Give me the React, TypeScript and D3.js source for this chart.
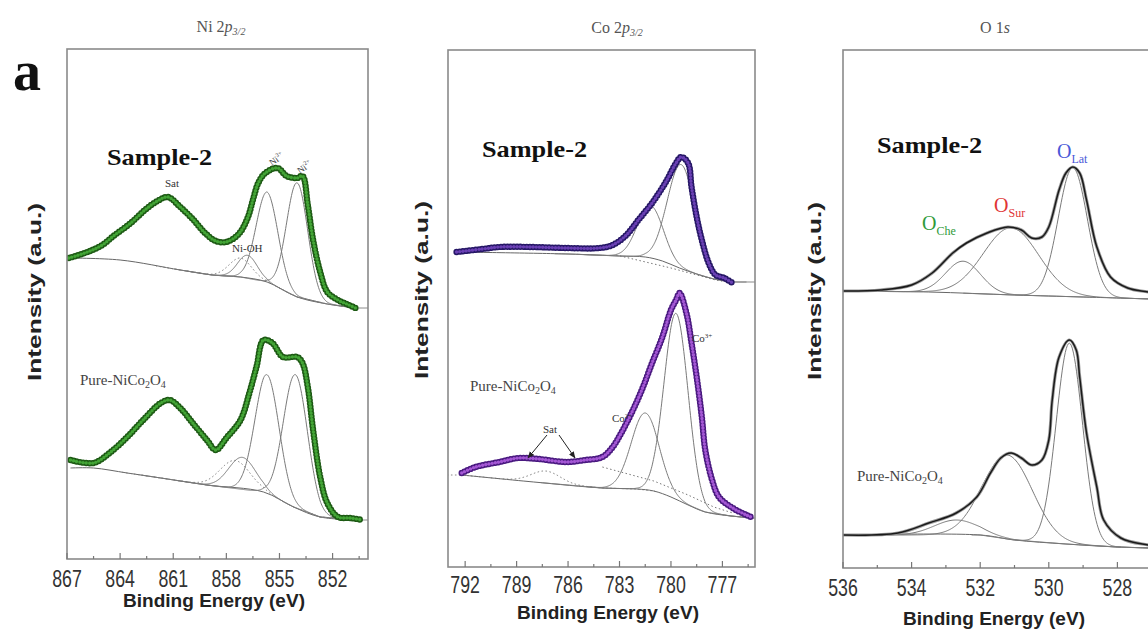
import React from "react";
import * as d3 from "d3";

type Pt = [number, number];
type Peak = [number, number, number]; // center (eV), height above background (a.u.), FWHM (eV)

// ---------------- Ni 2p3/2 ----------------
const niMajor = [867, 864, 861, 858, 855, 852];
const niMinor = [865.5, 862.5, 859.5, 856.5, 853.5, 850.5];
const niS2Data: Pt[] = [
  [866.9, 301], [866.0, 306], [865.1, 313], [864.3, 324], [863.4, 336], [862.6, 349], [861.9, 358],
  [861.3, 362], [860.6, 352], [859.9, 340], [859.2, 326], [858.6, 318], [858.0, 317], [857.3, 325],
  [856.8, 341], [856.5, 359], [856.2, 376], [855.8, 386], [855.1, 391], [854.6, 383], [854.0, 381],
  [853.7, 383], [853.4, 354], [853.1, 319], [852.7, 287], [852.3, 267], [851.7, 259], [851.2, 255], [850.7, 251],
];
const niS2Bg: Pt[] = [
  [867, 301], [864, 299], [860.6, 289], [858.8, 284], [857.2, 282], [855.7, 277], [854, 262], [852.3, 255], [850.7, 251],
];
const niS2Peaks: Peak[] = [[855.7, 90, 1.45], [854.0, 114, 1.4], [856.8, 23, 1.3]];
const niS2Dotted: Peak[] = [[857.2, 19, 1.5]];

const niPureData: Pt[] = [
  [866.8, 99], [865.5, 96], [864.6, 106], [863.6, 122], [862.7, 139], [861.7, 156], [861.2, 159],
  [860.6, 151], [859.9, 136], [859.1, 119], [858.6, 109], [858.0, 121], [857.2, 139], [856.7, 166],
  [856.3, 192], [855.9, 219], [855.4, 216], [854.8, 202], [854.0, 202], [853.7, 196], [853.4, 172],
  [853.1, 129], [852.7, 82], [852.3, 56], [851.7, 42], [851.0, 41], [850.3, 39],
];
const niPureBg: Pt[] = [
  [866.8, 91], [865.5, 91], [863.6, 86], [861.7, 81], [859.1, 74], [855.9, 67], [854.2, 52], [852.7, 42], [850.4, 39],
];
const niPurePeaks: Peak[] = [[855.7, 119, 1.6], [854.1, 133, 1.6], [857.1, 32, 1.8]];
const niPureDotted: Peak[] = [[857.5, 28, 2.0]];

// ---------------- Co 2p3/2 ----------------
const coMajor = [792, 789, 786, 783, 780, 777];
const coMinor = [790.5, 787.5, 784.5, 781.5, 778.5, 775.5];
const coS2Data: Pt[] = [
  [792.5, 315], [791.0, 318], [790.0, 320], [788.1, 320], [786.1, 319], [784.2, 319], [783.4, 322],
  [782.6, 332], [781.9, 347], [781.1, 364], [780.3, 385], [779.7, 404], [779.4, 410], [779.0, 404],
  [778.8, 380], [778.5, 350], [778.2, 327], [777.8, 304], [777.4, 292], [776.9, 289], [776.4, 284],
];
const coS2Bg: Pt[] = [
  [792.5, 315], [786, 313], [783, 311], [781.5, 310], [780.5, 306], [779.5, 299], [778.5, 293], [777.5, 288], [776.4, 285],
];
const coS2Peaks: Peak[] = [[781.2, 53, 1.75], [779.4, 104, 1.9]];
const coS2DotLine: Pt[] = [[783.2, 312], [780, 299], [777.4, 287], [776.4, 284]];

const coPureData: Pt[] = [
  [792.2, 94], [791.4, 100], [790.0, 105], [788.9, 109], [787.7, 108], [786.1, 105], [785.0, 107],
  [784.0, 110], [783.4, 120], [782.9, 134], [782.3, 154], [781.7, 177], [781.1, 204], [780.5, 230],
  [780.0, 257], [779.7, 267], [779.5, 274], [779.1, 254], [778.8, 224], [778.5, 190], [778.2, 150],
  [778.0, 117], [777.6, 87], [777.2, 70], [776.4, 59], [775.6, 52], [775.2, 49],
];
const coPureBg: Pt[] = [
  [792.2, 92], [788, 85], [784, 79], [782, 78], [781, 76], [780, 70], [779, 62], [778, 55], [776.5, 51], [775.2, 49],
];
const coPurePeaks: Peak[] = [[781.5, 77, 1.9], [779.7, 186, 1.65]];
const coPureDotted: Peak[] = [[787.3, 12, 2.0]];
const coPureDotLine: Pt[] = [[784, 100], [781, 86], [779, 72], [777.5, 60], [776.4, 54]];

// ---------------- O 1s ----------------
const oMajor = [536, 534, 532, 530, 528];
const oMinor = [535, 533, 531, 529, 527];
const oS2Env: Pt[] = [
  [536.0, 277], [534.9, 278], [534.0, 283], [533.4, 295], [532.8, 315], [532.4, 325], [531.8, 335],
  [531.2, 341], [530.8, 338], [530.5, 330], [530.2, 331], [530.0, 341], [529.7, 378], [529.5, 395],
  [529.3, 401], [529.1, 395], [528.9, 368], [528.6, 321], [528.2, 291], [527.7, 280], [527.1, 276], [526.0, 270],
];
const oS2Bg: Pt[] = [[536, 277], [533.5, 276], [531, 273], [529, 271], [526, 268]];
const oS2Peaks: Peak[] = [[532.5, 32, 1.2], [531.1, 67, 1.9], [529.3, 129, 1.0]];

const oPureEnv: Pt[] = [
  [536.0, 33], [534.4, 35], [533.5, 45], [532.7, 55], [532.1, 71], [531.7, 95], [531.4, 110],
  [531.1, 115], [530.8, 110], [530.5, 103], [530.2, 108], [530.0, 128], [529.9, 168], [529.7, 211],
  [529.4, 228], [529.2, 218], [529.1, 191], [528.9, 135], [528.6, 81], [528.4, 48], [527.9, 30], [527.1, 23], [526.0, 19],
];
const oPureBg: Pt[] = [[536, 33], [532, 33], [531, 28], [529.5, 24], [528, 21], [526, 19]];
const oPurePeaks: Peak[] = [[532.7, 15, 1.5], [531.2, 84, 1.7], [529.4, 201, 0.9]];

// ---------------- layout & styles ----------------
const SANS = "'Liberation Sans', Arial, sans-serif";
const SERIF = "'Liberation Serif', 'Times New Roman', serif";

type Frame = { x0: number; x1: number; y0: number; y1: number; xDomain: [number, number] };
const frameNi: Frame = { x0: 67, x1: 368, y0: 49, y1: 559, xDomain: [867, 850] };
const frameCo: Frame = { x0: 448, x1: 755, y0: 50, y1: 567, xDomain: [793, 775.1] };
const frameO: Frame = { x0: 843, x1: 1186, y0: 50, y1: 568, xDomain: [536, 526] };

type Spec = {
  data?: Pt[];
  env?: Pt[];
  bg: Pt[];
  peaks: Peak[];
  dotted?: Peak[];
  dotLine?: Pt[];
  dark?: string;
  light?: string;
};

function gauss(e: number, c: number, h: number, w: number) {
  const s = w / 2.3548;
  return h * Math.exp(-((e - c) ** 2) / (2 * s * s));
}

function Panel(props: {
  id: string;
  f: Frame;
  major: number[];
  minor: number[];
  specs: Spec[];
  labelY: number;
}) {
  const { id, f, major, minor, specs, labelY } = props;
  const x = d3.scaleLinear().domain(f.xDomain).range([f.x0, f.x1]);
  const y = d3.scaleLinear().domain([0, f.y1 - f.y0]).range([f.y1, f.y0]);
  const line = d3
    .line<Pt>()
    .x((d) => x(d[0]))
    .y((d) => y(d[1]))
    .curve(d3.curveCatmullRom.alpha(0.5));
  const straight = d3
    .line<Pt>()
    .x((d) => x(d[0]))
    .y((d) => y(d[1]));

  const compPath = (s: Spec, p: Peak) => {
    const bgS = d3
      .scaleLinear()
      .domain(s.bg.map((d) => d[0]))
      .range(s.bg.map((d) => d[1]))
      .clamp(true);
    const pts: Pt[] = d3
      .range(p[0] - 3.2 * p[2], p[0] + 3.2 * p[2], 0.03)
      .map((e) => [e, bgS(e) + gauss(e, p[0], p[1], p[2])] as Pt);
    return straight(pts) || "";
  };

  return (
    <g>
      <defs>
        <clipPath id={id}>
          <rect x={f.x0} y={f.y0} width={f.x1 - f.x0} height={f.y1 - f.y0} />
        </clipPath>
      </defs>
      <g clipPath={`url(#${id})`}>
        {specs.map((s, i) => (
          <g key={i}>
            <path d={line(s.bg) || ""} fill="none" stroke="#666" strokeWidth={1} />
            {s.peaks.map((p, j) => (
              <path key={j} d={compPath(s, p)} fill="none" stroke="#7a7a7a" strokeWidth={1} />
            ))}
            {(s.dotted || []).map((p, j) => (
              <path key={"d" + j} d={compPath(s, p)} fill="none" stroke="#777" strokeWidth={1} strokeDasharray="1.5 2.5" />
            ))}
            {s.dotLine && (
              <path d={straight(s.dotLine) || ""} fill="none" stroke="#777" strokeWidth={1} strokeDasharray="1.5 2.5" />
            )}
            {s.data && (
              <g>
                <path d={line(s.data) || ""} fill="none" stroke="#222" strokeWidth={1} />
                <path d={line(s.data) || ""} fill="none" stroke={s.dark} strokeWidth={6.4} strokeLinecap="round" strokeDasharray="0 3.2" />
                <path d={line(s.data) || ""} fill="none" stroke={s.light} strokeWidth={3.4} strokeLinecap="round" strokeDasharray="0 3.2" />
              </g>
            )}
            {s.env && (
              <g>
                <path d={line(s.env) || ""} fill="none" stroke="#9a9a9a" strokeWidth={3.2} />
                <path d={line(s.env) || ""} fill="none" stroke="#1a1a1a" strokeWidth={1.5} />
              </g>
            )}
          </g>
        ))}
      </g>
      <rect x={f.x0} y={f.y0} width={f.x1 - f.x0} height={f.y1 - f.y0} fill="none" stroke="#8a8a8a" strokeWidth={1.6} />
      {major.map((t) => (
        <g key={"M" + t}>
          <line x1={x(t)} x2={x(t)} y1={f.y1} y2={f.y1 - 6} stroke="#777" strokeWidth={1.2} />
          <text
            transform={`translate(${x(t)},${labelY}) scale(0.74,1)`}
            textAnchor="middle"
            fontFamily={SANS}
            fontSize={24}
            fill="#333"
          >
            {t}
          </text>
        </g>
      ))}
      {minor
        .filter((t) => x(t) > f.x0 && x(t) < f.x1)
        .map((t) => (
          <line key={"m" + t} x1={x(t)} x2={x(t)} y1={f.y1} y2={f.y1 - 3} stroke="#777" strokeWidth={1.2} />
        ))}
    </g>
  );
}

function YLabel({ x, y }: { x: number; y: number }) {
  return (
    <text
      transform={`translate(${x},${y}) rotate(-90)`}
      textAnchor="middle"
      fontFamily={SANS}
      fontWeight="bold"
      fontSize={19}
      textLength={178}
      lengthAdjust="spacingAndGlyphs"
      fill="#222"
    >
      Intensity (a.u.)
    </text>
  );
}

function XLabel({ x, y }: { x: number; y: number }) {
  return (
    <text x={x} y={y} textAnchor="middle" fontFamily={SANS} fontWeight="bold" fontSize={18} textLength={182} lengthAdjust="spacingAndGlyphs" fill="#222">
      Binding Energy (eV)
    </text>
  );
}

function Pure({ x, y }: { x: number; y: number }) {
  return (
    <text x={x} y={y} fontFamily={SERIF} fontSize={15} fill="#444">
      Pure-NiCo<tspan fontSize={10} dy={3}>2</tspan>
      <tspan dy={-3}>O</tspan>
      <tspan fontSize={10} dy={3}>4</tspan>
    </text>
  );
}

function Sample({ x, y }: { x: number; y: number }) {
  return (
    <text x={x} y={y} fontFamily={SERIF} fontWeight="bold" fontSize={24} textLength={105} lengthAdjust="spacingAndGlyphs" fill="#111">
      Sample-2
    </text>
  );
}

export default function App() {
  return (
    <div style={{ position: "absolute", left: 0, top: 0 }}>
      <svg width={1148} height={640} style={{ display: "block", background: "#fff" }}>
        <defs>
          <marker id="arr" viewBox="0 0 10 10" refX={9} refY={5} markerWidth={7} markerHeight={7} orient="auto">
            <path d="M0,1 L10,5 L0,9 Z" fill="#222" />
          </marker>
        </defs>

        {/* titles */}
        <text x={221} y={32} textAnchor="middle" fontFamily={SERIF} fontSize={16} fill="#555">
          Ni 2<tspan fontStyle="italic">p</tspan>
          <tspan fontSize={10} dy={3} fontStyle="italic">3/2</tspan>
        </text>
        <text x={617} y={33} textAnchor="middle" fontFamily={SERIF} fontSize={16} fill="#555">
          Co 2<tspan fontStyle="italic">p</tspan>
          <tspan fontSize={10} dy={3} fontStyle="italic">3/2</tspan>
        </text>
        <text x={995} y={33} textAnchor="middle" fontFamily={SERIF} fontSize={16} fill="#555">
          O 1<tspan fontStyle="italic">s</tspan>
        </text>

        <text x={13} y={90} fontFamily={SERIF} fontWeight="bold" fontSize={56} fill="#111">
          a
        </text>

        <Panel
          id="cNi"
          f={frameNi}
          major={niMajor}
          minor={niMinor}
          labelY={587}
          specs={[
            { data: niS2Data, bg: niS2Bg, peaks: niS2Peaks, dotted: niS2Dotted, dark: "#1d5a14", light: "#43a536" },
            { data: niPureData, bg: niPureBg, peaks: niPurePeaks, dotted: niPureDotted, dark: "#1d5a14", light: "#43a536" },
          ]}
        />
        <Panel
          id="cCo"
          f={frameCo}
          major={coMajor}
          minor={coMinor}
          labelY={593}
          specs={[
            { data: coS2Data, bg: coS2Bg, peaks: coS2Peaks, dotLine: coS2DotLine, dark: "#261766", light: "#6a40b4" },
            { data: coPureData, bg: coPureBg, peaks: coPurePeaks, dotted: coPureDotted, dotLine: coPureDotLine, dark: "#4a1a80", light: "#a457d4" },
          ]}
        />
        <Panel
          id="cO"
          f={frameO}
          major={oMajor}
          minor={oMinor}
          labelY={596}
          specs={[
            { env: oS2Env, bg: oS2Bg, peaks: oS2Peaks },
            { env: oPureEnv, bg: oPureBg, peaks: oPurePeaks },
          ]}
        />

        <YLabel x={41} y={292} />
        <YLabel x={428} y={290} />
        <YLabel x={821} y={291} />
        <XLabel x={214} y={607} />
        <XLabel x={608} y={619} />
        <XLabel x={994} y={625} />

        {/* Ni annotations */}
        <Sample x={107} y={165} />
        <Pure x={80} y={385} />
        <text x={172} y={187} textAnchor="middle" fontFamily={SERIF} fontSize={11} fill="#333">Sat</text>
        <text transform="translate(272,166) rotate(-35)" fontFamily={SERIF} fontSize={9} fill="#333">
          Ni<tspan fontSize={6} dy={-4}>3+</tspan>
        </text>
        <text transform="translate(300,174) rotate(-35)" fontFamily={SERIF} fontSize={9} fill="#333">
          Ni<tspan fontSize={6} dy={-4}>2+</tspan>
        </text>
        <text x={232} y={252} fontFamily={SERIF} fontSize={11} fill="#333">Ni-OH</text>

        {/* Co annotations */}
        <Sample x={482} y={157} />
        <Pure x={470} y={391} />
        <text x={543} y={433} fontFamily={SERIF} fontSize={11} fill="#333">Sat</text>
        <line x1={547} y1={435} x2={528} y2={458} stroke="#222" strokeWidth={1} markerEnd="url(#arr)" />
        <line x1={559} y1={435} x2={575} y2={458} stroke="#222" strokeWidth={1} markerEnd="url(#arr)" />
        <text x={612} y={422} fontFamily={SERIF} fontSize={11} fill="#333">
          Co<tspan fontSize={7} dy={-4}>2+</tspan>
        </text>
        <text x={692} y={342} fontFamily={SERIF} fontSize={11} fill="#333">
          Co<tspan fontSize={7} dy={-4}>3+</tspan>
        </text>

        {/* O annotations */}
        <Sample x={877} y={153} />
        <Pure x={857} y={481} />
        <text x={922} y={230} fontFamily={SERIF} fontSize={20} fill="#2f9a3a">
          O<tspan fontSize={12} dy={5}>Che</tspan>
        </text>
        <text x={994} y={212} fontFamily={SERIF} fontSize={20} fill="#e03535">
          O<tspan fontSize={12} dy={5}>Sur</tspan>
        </text>
        <text x={1057} y={158} fontFamily={SERIF} fontSize={20} fill="#4a58d8">
          O<tspan fontSize={12} dy={5}>Lat</tspan>
        </text>
      </svg>
    </div>
  );
}
